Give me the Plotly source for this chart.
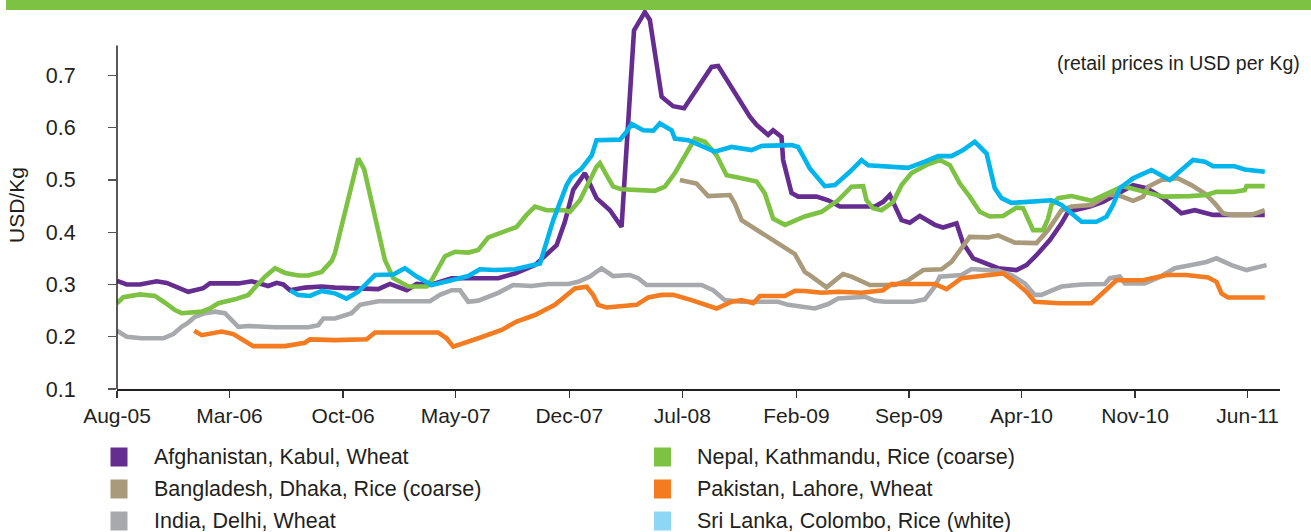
import numpy as np
import pandas as pd
import plotly.graph_objects as go

# ---------------- data (months since Aug-2005, USD per Kg) ----------------
series_names = [
    "Afghanistan, Kabul, Wheat",
    "Bangladesh, Dhaka, Rice (coarse)",
    "India, Delhi, Wheat",
    "Nepal, Kathmandu, Rice (coarse)",
    "Pakistan, Lahore, Wheat",
    "Sri Lanka, Colombo, Rice (white)",
]

afg_month = [0, 0.6, 1.42, 2.46, 3.08, 4.41, 5.34, 5.75, 7.51, 8.34, 9.36, 9.88, 10.29, 10.71, 11.63,
             12.66, 13.49, 16.17, 16.89, 17.93, 18.55, 19.37, 20.71, 22.57, 23.6, 24.63, 25.87, 27.21,
             27.72, 28.24, 28.96, 29.68, 30.51, 31.23, 31.9, 32.0, 32.67, 32.98, 33.71, 34.42, 35.1,
             35.97, 36.8, 37.21, 38.24, 39.17, 39.59, 40.3, 40.61, 41.13, 41.23, 41.75, 42.16, 43.3,
             44.02, 44.74, 46.91, 47.42, 47.83, 48.56, 49.07, 49.69, 50.62, 51.13, 51.96, 52.37, 52.99,
             53.92, 54.54, 55.67, 56.29, 56.91, 57.74, 58.46, 58.87, 60.21, 61.03, 61.96, 62.89, 63.72,
             64.75, 65.88, 66.71, 67.84, 71.04]
afg_usd = [0.307, 0.300, 0.300, 0.306, 0.303, 0.286, 0.293, 0.302, 0.302, 0.306, 0.297, 0.303, 0.300,
           0.289, 0.294, 0.296, 0.294, 0.291, 0.301, 0.289, 0.301, 0.299, 0.312, 0.312, 0.312, 0.321,
           0.337, 0.375, 0.420, 0.481, 0.513, 0.465, 0.442, 0.410, 0.750, 0.786, 0.821, 0.806, 0.659,
           0.641, 0.637, 0.678, 0.716, 0.718, 0.665, 0.621, 0.605, 0.586, 0.595, 0.582, 0.538, 0.475,
           0.468, 0.468, 0.461, 0.449, 0.449, 0.458, 0.471, 0.423, 0.418, 0.431, 0.414, 0.409, 0.417,
           0.379, 0.350, 0.340, 0.331, 0.3275, 0.337, 0.356, 0.385, 0.417, 0.439, 0.449, 0.458, 0.474,
           0.490, 0.484, 0.465, 0.436, 0.442, 0.433, 0.433]

bgd_month = [34.84, 35.87, 36.59, 37.93, 38.24, 38.66, 41.96, 42.57, 42.88, 43.92, 44.94, 45.46, 46.6,
             48.14, 48.97, 49.9, 51.03, 51.65, 52.78, 53.92, 54.54, 55.57, 56.91, 57.63, 58.46, 59.08,
             60.32, 61.34, 61.96, 62.38, 62.89, 63.51, 63.82, 64.65, 65.67, 66.5, 67.33, 67.95, 68.46,
             68.98, 70.22, 71.04]
bgd_usd = [0.500, 0.493, 0.469, 0.471, 0.455, 0.423, 0.358, 0.324, 0.318, 0.2945, 0.320, 0.315, 0.299,
           0.299, 0.308, 0.3275, 0.329, 0.343, 0.391, 0.390, 0.394, 0.380, 0.379, 0.404, 0.442, 0.449,
           0.452, 0.471, 0.471, 0.465, 0.460, 0.468, 0.487, 0.500, 0.503, 0.490, 0.474, 0.455, 0.436,
           0.433, 0.433, 0.442]

ind_month = [0, 0.6, 1.53, 2.87, 3.48, 4.0, 4.41, 4.83, 5.45, 6.06, 6.68, 7.51, 8.13, 9.78, 11.84,
             12.46, 12.77, 13.49, 14.52, 15.04, 16.17, 19.37, 19.99, 20.71, 21.23, 21.74, 22.36, 23.6,
             24.52, 25.66, 26.69, 27.93, 28.55, 29.27, 29.99, 30.71, 31.75, 32.26, 32.78, 36.18, 36.9,
             37.62, 38.66, 40.92, 41.54, 42.57, 43.19, 44.02, 44.63, 46.29, 46.91, 47.52, 49.28, 50.0,
             50.62, 50.93, 52.27, 52.89, 53.92, 54.54, 55.36, 56.19, 56.81, 57.22, 57.84, 58.46, 59.7,
             61.14, 61.45, 62.07, 62.38, 63.61, 64.65, 65.47, 66.5, 67.43, 68.05, 68.98, 69.91, 71.15]
ind_usd = [0.2115, 0.200, 0.197, 0.197, 0.205, 0.219, 0.227, 0.238, 0.245, 0.248, 0.245, 0.219, 0.2205,
           0.218, 0.218, 0.222, 0.235, 0.235, 0.245, 0.261, 0.268, 0.268, 0.280, 0.289, 0.289, 0.267,
           0.269, 0.284, 0.299, 0.297, 0.301, 0.301, 0.305, 0.315, 0.331, 0.316, 0.318, 0.312, 0.299,
           0.299, 0.289, 0.270, 0.267, 0.267, 0.261, 0.257, 0.254, 0.2625, 0.273, 0.2765, 0.269, 0.267,
           0.267, 0.2715, 0.296, 0.315, 0.318, 0.3295, 0.3275, 0.326, 0.318, 0.302, 0.280, 0.280, 0.288,
           0.296, 0.300, 0.301, 0.312, 0.315, 0.302, 0.302, 0.316, 0.331, 0.337, 0.343, 0.350, 0.337,
           0.3275, 0.337]

nep_month = [0, 0.39, 1.42, 2.35, 2.97, 3.59, 4.0, 5.24, 5.75, 6.27, 7.3, 8.13, 8.74, 9.16, 9.78, 10.4,
             11.22, 11.84, 12.67, 13.29, 13.49, 14.93, 15.3, 16.58, 17.1, 18.03, 19.16, 19.47, 20.3,
             20.92, 21.74, 22.36, 22.98, 24.01, 24.73, 25.35, 25.87, 26.59, 27.72, 28.03, 28.65, 29.68,
             29.89, 30.3, 30.71, 31.23, 33.29, 33.91, 34.53, 35.77, 36.39, 37.11, 37.73, 38.66, 39.59,
             40.1, 40.61, 41.34, 42.57, 43.61, 44.63, 45.46, 46.18, 46.39, 46.8, 47.32, 48.04, 48.56,
             49.18, 50.2, 50.93, 51.55, 52.17, 52.78, 53.4, 54.02, 54.85, 55.67, 56.08, 56.7, 57.32,
             57.63, 57.84, 58.25, 59.08, 60.32, 61.14, 62.27, 63.5, 64.75, 66.4, 67.43, 68.05, 69.08,
             69.8, 69.91, 71.04]
nep_usd = [0.264, 0.2755, 0.281, 0.278, 0.265, 0.251, 0.245, 0.248, 0.254, 0.264, 0.2715, 0.280, 0.301,
           0.315, 0.331, 0.322, 0.317, 0.317, 0.324, 0.345, 0.360, 0.541, 0.520, 0.347, 0.312, 0.296,
           0.296, 0.308, 0.354, 0.3625, 0.361, 0.366, 0.390, 0.401, 0.410, 0.433, 0.449, 0.442, 0.442,
           0.439, 0.461, 0.525, 0.532, 0.509, 0.487, 0.482, 0.479, 0.487, 0.513, 0.579, 0.573, 0.547,
           0.509, 0.503, 0.497, 0.474, 0.426, 0.414, 0.430, 0.439, 0.461, 0.487, 0.488, 0.461, 0.446,
           0.442, 0.458, 0.490, 0.513, 0.530, 0.538, 0.528, 0.493, 0.468, 0.439, 0.430, 0.431, 0.447,
           0.446, 0.404, 0.404, 0.426, 0.452, 0.465, 0.469, 0.460, 0.472, 0.488, 0.478, 0.468, 0.469,
           0.471, 0.477, 0.477, 0.4805, 0.488, 0.488]

pak_month = [4.78, 5.24, 6.48, 7.2, 8.43, 10.4, 11.63, 11.94, 13.49, 15.45, 15.97, 19.88, 20.4, 20.81,
             22.36, 23.81, 24.73, 25.87, 27.1, 27.72, 28.34, 29.07, 29.47, 29.78, 30.3, 32.16, 32.88,
             33.71, 34.42, 35.56, 37.11, 38.04, 38.66, 39.38, 39.79, 41.34, 41.96, 42.57, 43.61, 44.63,
             46.08, 47.42, 47.94, 50.62, 51.34, 52.27, 54.85, 55.57, 56.29, 56.81, 58.35, 60.32, 61.86,
             63.51, 64.96, 66.19, 67.53, 68.05, 68.36, 68.77, 71.04]
pak_usd = [0.2115, 0.203, 0.210, 0.205, 0.182, 0.182, 0.1885, 0.195, 0.1935, 0.195, 0.208, 0.208, 0.197,
           0.181, 0.197, 0.213, 0.229, 0.2415, 0.261, 0.2765, 0.2925, 0.2956, 0.280, 0.261, 0.256, 0.261,
           0.275, 0.280, 0.280, 0.270, 0.254, 0.267, 0.270, 0.264, 0.278, 0.278, 0.288, 0.2875, 0.284,
           0.286, 0.284, 0.289, 0.301, 0.301, 0.291, 0.312, 0.321, 0.305, 0.286, 0.267, 0.264, 0.264,
           0.308, 0.308, 0.318, 0.318, 0.3135, 0.305, 0.283, 0.275, 0.275]

slk_month = [10.71, 11.22, 11.94, 12.67, 13.49, 14.21, 14.93, 15.97, 17.1, 17.82, 18.55, 19.47, 20.71,
             21.74, 22.46, 23.39, 24.63, 25.25, 26.18, 27.0, 27.83, 28.14, 28.76, 29.38, 29.68, 31.13,
             31.54, 31.85, 32.57, 33.19, 33.6, 34.33, 34.53, 35.35, 37.0, 38.04, 39.28, 39.89, 41.75,
             42.16, 42.88, 43.81, 44.43, 45.36, 46.08, 46.49, 48.97, 50.0, 50.82, 51.65, 52.37, 53.09,
             53.82, 54.33, 54.75, 55.36, 56.81, 57.84, 58.46, 59.08, 59.7, 60.62, 61.24, 61.65, 62.07,
             62.89, 64.03, 65.16, 65.88, 66.6, 67.33, 67.84, 69.18, 69.8, 71.04]
slk_usd = [0.289, 0.280, 0.278, 0.2875, 0.283, 0.273, 0.286, 0.318, 0.319, 0.331, 0.315, 0.299, 0.308,
           0.316, 0.329, 0.3275, 0.329, 0.334, 0.340, 0.423, 0.490, 0.506, 0.522, 0.547, 0.576, 0.577,
           0.592, 0.607, 0.595, 0.594, 0.608, 0.595, 0.579, 0.576, 0.554, 0.563, 0.557, 0.565, 0.5665,
           0.563, 0.522, 0.488, 0.490, 0.5155, 0.538, 0.528, 0.523, 0.535, 0.5455, 0.5455, 0.557, 0.573,
           0.5505, 0.484, 0.465, 0.456, 0.458, 0.461, 0.452, 0.436, 0.420, 0.420, 0.4295, 0.452, 0.484,
           0.503, 0.519, 0.500, 0.519, 0.538, 0.535, 0.526, 0.526, 0.520, 0.5155]

x_tick_dates = ["2005-08-01", "2006-03-01", "2006-10-01", "2007-05-01", "2007-12-01", "2008-07-01",
                "2009-02-01", "2009-09-01", "2010-04-01", "2010-11-01", "2011-06-01"]
x_tick_labels = ["Aug-05", "Mar-06", "Oct-06", "May-07", "Dec-07", "Jul-08",
                 "Feb-09", "Sep-09", "Apr-10", "Nov-10", "Jun-11"]
y_tick_vals = [0.1, 0.2, 0.3, 0.4, 0.5, 0.6, 0.7]
y_tick_labels = ["0.1", "0.2", "0.3", "0.4", "0.5", "0.6", "0.7"]

# ---------------- styles ----------------
line_colors = ["#662D91", "#A89A7A", "#A7A9AC", "#7DC242", "#F47B20", "#00B5EC"]
legend_colors = ["#662D91", "#A89A7A", "#A7A9AC", "#7DC242", "#F47B20", "#8ED6F6"]
FONT = "Liberation Sans, Arial, Helvetica, sans-serif"
TXT = "#231F20"

W, H = 1311, 532
ML, MR, MT, MB = 117, 31, 10, 143
PW, PH = W - ML - MR, H - MT - MB


def fx(px):
    return (px - ML) / PW


def fy(py):
    return (H - MB - py) / PH


START = pd.Timestamp("2005-08-01")


def to_dates(months):
    return START + pd.to_timedelta(np.asarray(months) * 30.4375, unit="D")


all_months = [afg_month, bgd_month, ind_month, nep_month, pak_month, slk_month]
all_usd = [afg_usd, bgd_usd, ind_usd, nep_usd, pak_usd, slk_usd]

fig = go.Figure()
for name, mo, val, col in zip(series_names, all_months, all_usd, line_colors):
    fig.add_trace(go.Scatter(x=to_dates(mo), y=val, mode="lines", name=name,
                             line=dict(color=col, width=4.6), showlegend=False))

shapes = []
annotations = []

# top green band
shapes.append(dict(type="rect", xref="paper", yref="paper", x0=fx(6), x1=fx(1312),
                   y0=fy(10), y1=fy(-1), fillcolor="#7DC242", line=dict(width=0), layer="above"))
# y axis line (stops below the top of the plot)
shapes.append(dict(type="line", xref="paper", yref="y", x0=0, x1=0, y0=0.1, y1=0.757,
                   line=dict(color="#231F20", width=1.5)))

# legend (two columns, three rows)
legend_pos = [(0, 0), (0, 1), (0, 2), (1, 0), (1, 1), (1, 2)]
col_sq = [119, 662.5]
col_txt = [152, 695]
row_y = [457, 489, 521]
for name, col, (c, r) in zip(series_names, legend_colors, legend_pos):
    cx, cy = col_sq[c], row_y[r]
    shapes.append(dict(type="rect", xref="paper", yref="paper",
                       x0=fx(cx - 8.5), x1=fx(cx + 8.5), y0=fy(cy + 9.5), y1=fy(cy - 9.5),
                       fillcolor=col, line=dict(width=0)))
    annotations.append(dict(text=name, xref="paper", yref="paper", x=fx(col_txt[c]), y=fy(cy),
                            xanchor="left", yanchor="middle", showarrow=False,
                            font=dict(family=FONT, size=21.5, color=TXT)))

annotations.append(dict(text="(retail prices in USD per Kg)", xref="paper", yref="paper",
                        x=fx(1302), y=fy(63), xanchor="right", yanchor="middle", showarrow=False,
                        font=dict(family=FONT, size=19.5, color=TXT)))
annotations.append(dict(text="USD/Kg", xref="paper", yref="paper", x=fx(16), y=fy(205),
                        xanchor="center", yanchor="middle", textangle=-90, showarrow=False,
                        font=dict(family=FONT, size=21, color=TXT)))

fig.update_layout(
    width=W, height=H,
    margin=dict(l=ML, r=MR, t=MT, b=MB),
    paper_bgcolor="white", plot_bgcolor="white",
    showlegend=False,
    hovermode=False,
    font=dict(family=FONT, color=TXT),
    shapes=shapes, annotations=annotations,
    xaxis=dict(type="date", range=["2005-08-01", "2011-08-01"],
               tickmode="array", tickvals=x_tick_dates, ticktext=x_tick_labels,
               ticks="outside", ticklen=7, tickwidth=1.3, tickcolor="#333",
               showline=True, linecolor="#231F20", linewidth=1.5,
               showgrid=False, zeroline=False,
               tickfont=dict(family=FONT, size=21, color=TXT)),
    yaxis=dict(range=[0.1, 0.825], tickmode="array", tickvals=y_tick_vals, ticktext=y_tick_labels,
               ticks="outside", ticklen=8, tickwidth=1.3, tickcolor="#555",
               showline=False, showgrid=False, zeroline=False,
               ticklabelstandoff=28,
               tickfont=dict(family=FONT, size=21.5, color=TXT)),
)

fig.write_html("out.html",
               config={"displayModeBar": False, "staticPlot": True},
               post_script="document.body.style.margin='0';document.body.style.padding='0';")
